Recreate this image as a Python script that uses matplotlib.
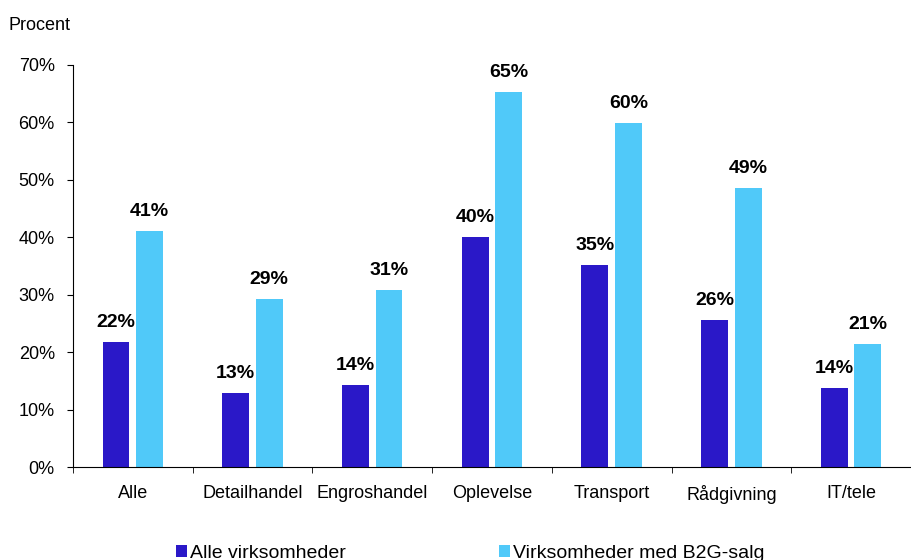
import matplotlib.pyplot as plt
import numpy as np

plt.rcParams['font.family'] = ['Liberation Sans', 'DejaVu Sans']

kategorier = ['Alle', 'Detailhandel', 'Engroshandel', 'Oplevelse', 'Transport', 'Rådgivning', 'IT/tele']
alle_virk = [21.8, 12.9, 14.2, 40.1, 35.2, 25.6, 13.8]
b2g_virk = [41.1, 29.3, 30.8, 65.3, 59.9, 48.6, 21.4]
alle_lbl = ['22%', '13%', '14%', '40%', '35%', '26%', '14%']
b2g_lbl = ['41%', '29%', '31%', '65%', '60%', '49%', '21%']
serier = ['Alle virksomheder', 'Virksomheder med B2G-salg']

c_mork = '#2a18c8'
c_lys = '#50c9f9'

fig = plt.figure(figsize=(9.11, 5.6), dpi=100)
ax = fig.add_axes([0.080, 0.166, 0.920, 0.718])

x = np.arange(len(kategorier))
w = 0.225
off = 0.14
b1 = ax.bar(x - off, alle_virk, w, color=c_mork, label=serier[0])
b2 = ax.bar(x + off, b2g_virk, w, color=c_lys, label=serier[1])

# etiketter over soejlerne
for bars, lbls in ((b1, alle_lbl), (b2, b2g_lbl)):
    for b, t in zip(bars, lbls):
        ax.annotate(t, (b.get_x() + b.get_width() / 2, b.get_height()),
                    xytext=(0, 8), textcoords='offset points',
                    ha='center', va='bottom', fontsize=14, fontweight='bold')

ax.set_xlim(-0.5, 6.44)
ax.set_ylim(0, 70)
ax.set_yticks(np.arange(0, 71, 10))
ax.set_yticklabels([f'{v}%' for v in range(0, 71, 10)], fontsize=13)
ax.tick_params(axis='y', length=4, pad=9, direction='out')

ax.set_xticks(x)
ax.set_xticklabels(kategorier, fontsize=13)
ax.set_xticks(np.arange(-0.5, 6.6, 1), minor=True)
ax.tick_params(axis='x', which='major', length=0, pad=13)
ax.tick_params(axis='x', which='minor', length=4, direction='out')

for s in ('top', 'right'):
    ax.spines[s].set_visible(False)

fig.text(0.009, 0.955, 'Procent', fontsize=13, va='center')

fig.legend(loc='lower left', bbox_to_anchor=(0.174, -0.034), ncol=2, frameon=False,
           fontsize=14, handlelength=0.57, handleheight=0.57, handletextpad=0.15,
           columnspacing=7.85)

fig.savefig('out.png', dpi=100)
